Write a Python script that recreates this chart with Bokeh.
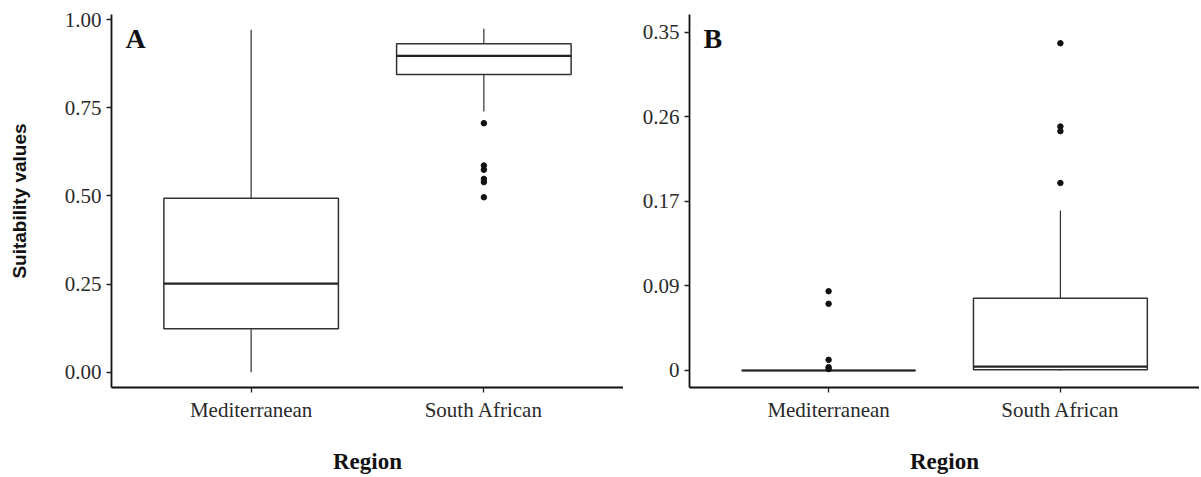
from bokeh.plotting import figure
from bokeh.layouts import row
from bokeh.models import Range1d, FixedTicker, Label, ColumnDataSource
from bokeh.embed import file_html
from bokeh.resources import INLINE

regions = ["Mediterranean", "South African"]

# Panel A - suitability values
a_lower = [0.0, 0.739]
a_q1 = [0.123, 0.844]
a_median = [0.251, 0.897]
a_q3 = [0.493, 0.931]
a_upper = [0.971, 0.974]
a_out_region = ["South African"] * 6
a_out_values = [0.706, 0.586, 0.574, 0.548, 0.539, 0.496]
a_ticks = [0.0, 0.25, 0.5, 0.75, 1.0]
a_tick_labels = ["0.00", "0.25", "0.50", "0.75", "1.00"]

# Panel B
b_lower = [0.0, 0.0]
b_q1 = [0.0, 0.0007]
b_median = [0.0, 0.004]
b_q3 = [0.0, 0.0748]
b_upper = [0.0, 0.1655]
b_out_region = ["Mediterranean"] * 5 + ["South African"] * 4
b_out_values = [0.082, 0.069, 0.011, 0.0034, 0.0015, 0.3386, 0.2524, 0.2476, 0.194]
b_ticks = [0.0, 0.0875, 0.175, 0.2625, 0.35]
b_tick_labels = ["0", "0.09", "0.17", "0.26", "0.35"]

SERIF = "Liberation Serif"
BOX_W = 0.75
pos = {r: i + 1 for i, r in enumerate(regions)}


def panel(letter, lower, q1, med, q3, upper, out_r, out_v, ticks, tick_labels,
          yr, xr, width, border_left, ylabel):
    p = figure(width=width, height=476, output_backend="svg", toolbar_location=None,
               x_range=Range1d(*xr), y_range=Range1d(*yr),
               min_border_left=border_left, min_border_right=0,
               min_border_top=14, min_border_bottom=89)
    p.outline_line_color = None
    p.grid.grid_line_color = None
    p.background_fill_color = "white"
    p.border_fill_color = "white"

    xs = [pos[r] for r in regions]
    src = ColumnDataSource(dict(
        x=xs, x0=[x - BOX_W / 2 for x in xs], x1=[x + BOX_W / 2 for x in xs],
        lower=lower, q1=q1, med=med, q3=q3, upper=upper))
    p.segment(x0="x", y0="q3", x1="x", y1="upper", source=src,
              line_color="#333333", line_width=1.2)
    p.segment(x0="x", y0="lower", x1="x", y1="q1", source=src,
              line_color="#333333", line_width=1.2)
    p.vbar(x="x", width=BOX_W, top="q3", bottom="q1", source=src,
           fill_color="white", line_color="#333333", line_width=1.5)
    p.segment(x0="x0", y0="med", x1="x1", y1="med", source=src,
              line_color="#222222", line_width=2.2)
    p.scatter(x=[pos[r] for r in out_r], y=out_v, size=5.5,
              fill_color="#111111", line_color="#111111")

    p.xaxis.ticker = FixedTicker(ticks=xs)
    p.xaxis.major_label_overrides = {x: r for x, r in zip(xs, regions)}
    p.yaxis.ticker = FixedTicker(ticks=ticks)
    p.yaxis.major_label_overrides = {t: l for t, l in zip(ticks, tick_labels)}

    for ax in (p.xaxis[0], p.yaxis[0]):
        ax.axis_line_color = "#111111"
        ax.axis_line_width = 1.8
        ax.major_tick_line_color = "#222222"
        ax.major_tick_line_width = 1.3
        ax.major_tick_in = 0
        ax.major_tick_out = 5
        ax.minor_tick_line_color = None
        ax.major_label_text_font = SERIF
        ax.major_label_text_font_size = "21px"
        ax.major_label_text_color = "#2a2a2a"
        ax.major_label_standoff = 5

    p.xaxis.axis_label = "Region"
    p.xaxis.axis_label_text_font = SERIF
    p.xaxis.axis_label_text_font_style = "bold"
    p.xaxis.axis_label_text_font_size = "23px"
    p.xaxis.axis_label_text_color = "#111111"
    p.xaxis.axis_label_standoff = 24

    if ylabel:
        p.yaxis.axis_label = ylabel
        p.yaxis.axis_label_text_font = '"Liberation Sans Narrow", "Liberation Sans", sans-serif'
        p.yaxis.axis_label_text_font_style = "bold"
        p.yaxis.axis_label_text_font_size = "19px"
        p.yaxis.axis_label_text_color = "#111111"
        p.yaxis.axis_label_standoff = 32

    p.add_layout(Label(x=14, y=349, x_units="screen", y_units="screen", text=letter,
                       text_font=SERIF, text_font_style="bold", text_font_size="28px",
                       text_color="#111111", text_baseline="alphabetic"))
    return p


pa = panel("A", a_lower, a_q1, a_median, a_q3, a_upper, a_out_region, a_out_values,
           a_ticks, a_tick_labels, (-0.0434, 1.0142), (0.4, 2.6), 623, 111,
           "Suitability values")
pb = panel("B", b_lower, b_q1, b_median, b_q3, b_upper, b_out_region, b_out_values,
           b_ticks, b_tick_labels, (-0.0176, 0.3683), (0.4, 2.6), 576, 66, None)

layout = row(pa, pb, spacing=0)
open("out.html", "w").write(file_html(layout, INLINE))
